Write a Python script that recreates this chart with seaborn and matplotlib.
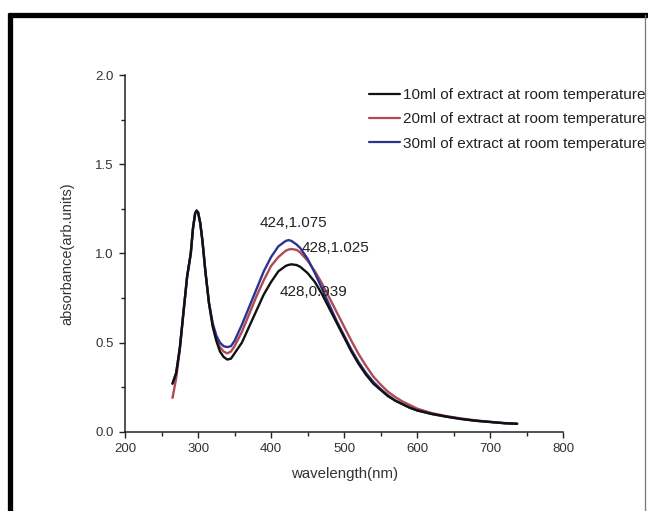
import numpy as np
import pandas as pd
import matplotlib
matplotlib.use("Agg")
import matplotlib.pyplot as plt
from matplotlib.lines import Line2D
from matplotlib.ticker import MultipleLocator, AutoMinorLocator, FormatStrFormatter
import seaborn as sns

# UV-vis absorbance spectra of the extract at three volumes
wavelength = [265, 270, 275, 280, 285, 290, 293, 296, 298, 300, 303, 306, 310, 315, 320,
              325, 330, 335, 340, 345, 350, 360, 370, 380, 390, 400, 410, 420,
              424, 428, 435, 440, 450, 460, 470, 480, 490, 500, 510, 520, 530,
              540, 550, 560, 570, 580, 590, 600, 620, 640, 660, 680, 700, 720, 737]

abs_10ml = [0.27, 0.33, 0.47, 0.67, 0.87, 1.00, 1.14, 1.225, 1.24, 1.23, 1.17, 1.07, 0.90, 0.72, 0.59,
            0.51, 0.45, 0.42, 0.405, 0.41, 0.44, 0.50, 0.59, 0.68, 0.77, 0.84, 0.90, 0.93,
            0.936, 0.939, 0.935, 0.925, 0.89, 0.84, 0.77, 0.69, 0.61, 0.53, 0.45, 0.38, 0.32,
            0.27, 0.235, 0.20, 0.175, 0.155, 0.135, 0.12, 0.10, 0.085, 0.072, 0.062, 0.055, 0.048, 0.045]

abs_20ml = [0.19, 0.30, 0.46, 0.67, 0.87, 1.00, 1.14, 1.225, 1.24, 1.23, 1.17, 1.07, 0.90, 0.72, 0.60,
            0.52, 0.475, 0.45, 0.44, 0.45, 0.48, 0.56, 0.66, 0.76, 0.85, 0.93, 0.98, 1.015,
            1.022, 1.025, 1.02, 1.005, 0.96, 0.90, 0.83, 0.75, 0.67, 0.59, 0.51, 0.435, 0.37,
            0.31, 0.265, 0.225, 0.195, 0.17, 0.15, 0.13, 0.105, 0.088, 0.075, 0.064, 0.056, 0.049, 0.045]

abs_30ml = [0.27, 0.33, 0.47, 0.67, 0.87, 1.00, 1.14, 1.225, 1.24, 1.23, 1.17, 1.07, 0.90, 0.72, 0.61,
            0.54, 0.50, 0.48, 0.475, 0.48, 0.51, 0.60, 0.70, 0.80, 0.90, 0.98, 1.04, 1.07,
            1.075, 1.07, 1.05, 1.03, 0.97, 0.89, 0.80, 0.71, 0.62, 0.54, 0.46, 0.39, 0.33,
            0.28, 0.24, 0.205, 0.175, 0.155, 0.135, 0.12, 0.10, 0.085, 0.072, 0.062, 0.055, 0.048, 0.045]

series_labels = ["10ml of extract at room temperature",
                 "20ml of extract at room temperature",
                 "30ml of extract at room temperature"]
series_colors = ["#111111", "#b04a52", "#2b3490"]

# surface plasmon peak readings (wavelength, absorbance) per series
peak_wl = [428, 428, 424]
peak_abs = [0.939, 1.025, 1.075]

df = pd.concat([
    pd.DataFrame({"wavelength": wavelength, "absorbance": vals, "sample": lab})
    for vals, lab in zip([abs_10ml, abs_20ml, abs_30ml], series_labels)
], ignore_index=True)

sns.set_style("ticks")
plt.rcParams["font.family"] = ["Liberation Sans", "DejaVu Sans"]
plt.rcParams["text.color"] = "#222222"

fig = plt.figure(figsize=(6.48, 5.11), dpi=100)
ax = fig.add_axes([0.193, 0.155, 0.676, 0.698])

sns.lineplot(data=df, x="wavelength", y="absorbance", hue="sample",
             hue_order=series_labels, palette=series_colors,
             estimator=None, sort=False, linewidth=1.7, legend=False, ax=ax)

# keep the 10 ml trace on top
ax.lines[0].set_zorder(4)
ax.lines[1].set_zorder(2)
ax.lines[2].set_zorder(3)

ax.set_xlim(200, 800)
ax.set_ylim(0, 2.0)
ax.xaxis.set_major_locator(MultipleLocator(100))
ax.xaxis.set_minor_locator(AutoMinorLocator(2))
ax.yaxis.set_major_locator(MultipleLocator(0.5))
ax.yaxis.set_minor_locator(AutoMinorLocator(2))
ax.yaxis.set_major_formatter(FormatStrFormatter("%.1f"))
ax.tick_params(which="major", length=4.5, width=1.0, labelsize=9.5, colors="#222222",
               labelcolor="#333333", direction="out")
ax.tick_params(which="minor", length=3, width=1.0, colors="#222222", direction="out")
sns.despine(ax=ax)
for s in ["left", "bottom"]:
    ax.spines[s].set_linewidth(1.1)
    ax.spines[s].set_color("#222222")

ax.set_xlabel("wavelength(nm)", fontsize=10.8, color="#333333", labelpad=9)
ax.set_ylabel("absorbance(arb.units)", fontsize=10.5, color="#333333", labelpad=15)

# peak annotations
ax.text(peak_wl[2] + 6, peak_abs[2] + 0.095, f"{peak_wl[2]},{peak_abs[2]}",
        fontsize=11, ha="center", va="center", color="#222222")
ax.text(peak_wl[1] + 14, peak_abs[1] + 0.005, f"{peak_wl[1]},{peak_abs[1]}",
        fontsize=11, ha="left", va="center", color="#222222")
ax.text(peak_wl[0] - 16, peak_abs[0] - 0.155, f"{peak_wl[0]},{peak_abs[0]:.3f}",
        fontsize=11, ha="left", va="center", color="#222222")

handles = [Line2D([], [], color=c, linewidth=1.6) for c in series_colors]
leg = fig.legend(handles, series_labels, loc="upper left",
                 bbox_to_anchor=(369 / 648, 1 - 88 / 511), frameon=False,
                 fontsize=11, handlelength=2.0, handletextpad=0.25,
                 labelspacing=0.68, borderaxespad=0, borderpad=0)
for t in leg.get_texts():
    t.set_color("#222222")

# outer frame around the figure
fig.add_artist(Line2D([10 / 648, 10 / 648], [0, 1 - 13 / 511], transform=fig.transFigure,
                      color="black", linewidth=3.8, solid_capstyle="butt"))
fig.add_artist(Line2D([8 / 648, 1], [1 - 15 / 511, 1 - 15 / 511], transform=fig.transFigure,
                      color="black", linewidth=3.8, solid_capstyle="butt"))
fig.add_artist(Line2D([645 / 648, 645 / 648], [0, 1 - 15 / 511], transform=fig.transFigure,
                      color="#777777", linewidth=0.9, zorder=10))

fig.savefig("out.png", dpi=100)
